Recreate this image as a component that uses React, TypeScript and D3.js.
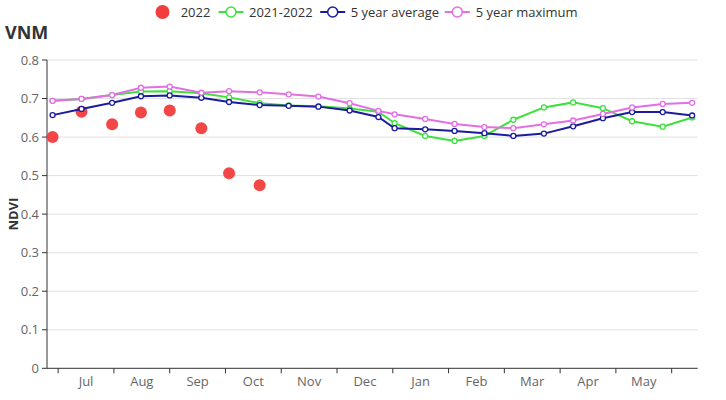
import React from "react";
import * as d3 from "d3";

const title = "VNM";
const yLabel = "NDVI";
const periods = [
  "2021-06-28", "2021-07-14", "2021-07-31", "2021-08-16", "2021-09-01", "2021-09-18",
  "2021-10-03", "2021-10-20", "2021-11-05", "2021-11-21", "2021-12-08", "2021-12-24",
  "2022-01-02", "2022-01-19", "2022-02-04", "2022-02-19", "2022-03-06", "2022-03-23",
  "2022-04-08", "2022-04-24", "2022-05-10", "2022-05-27", "2022-06-12",
];
const s2022 = [0.600, 0.666, 0.633, 0.664, 0.669, 0.623, 0.506, 0.475];
const s2021_2022 = [0.694, 0.699, 0.709, 0.718, 0.719, 0.714, 0.703, 0.688, 0.682, 0.680, 0.674, 0.666,
  0.636, 0.603, 0.590, 0.603, 0.645, 0.677, 0.690, 0.675, 0.641, 0.627, 0.651];
const avg5 = [0.657, 0.673, 0.689, 0.706, 0.708, 0.702, 0.691, 0.683, 0.681, 0.679, 0.669, 0.652,
  0.623, 0.620, 0.616, 0.610, 0.603, 0.609, 0.628, 0.649, 0.665, 0.665, 0.656];
const max5 = [0.694, 0.699, 0.709, 0.728, 0.731, 0.715, 0.719, 0.716, 0.711, 0.705, 0.688, 0.668,
  0.659, 0.647, 0.634, 0.626, 0.623, 0.633, 0.643, 0.660, 0.677, 0.686, 0.689];
const monthStarts = ["2021-07-01", "2021-08-01", "2021-09-01", "2021-10-01", "2021-11-01", "2021-12-01",
  "2022-01-01", "2022-02-01", "2022-03-01", "2022-04-01", "2022-05-01", "2022-06-01"];
const monthLabels = ["Jul", "Aug", "Sep", "Oct", "Nov", "Dec", "Jan", "Feb", "Mar", "Apr", "May"];
const yTicks = [0, 0.1, 0.2, 0.3, 0.4, 0.5, 0.6, 0.7, 0.8];
const xStart = "2021-06-25";
const xEnd = "2022-06-15";

const legendItems = [
  { name: "2022", color: "#f23d3d", type: "dot" },
  { name: "2021-2022", color: "#3ee03e", type: "line" },
  { name: "5 year average", color: "#1b1b9e", type: "line" },
  { name: "5 year maximum", color: "#e46ee4", type: "line" },
];

function monthPos(s: string): number {
  const [y, m, d] = s.split("-").map(Number);
  const dim = new Date(y, m, 0).getDate();
  return (y - 2021) * 12 + (m - 1) - 6 + (d - 1) / dim;
}

const FONT = "'Open Sans', 'Noto Sans', sans-serif";

export default function App() {
  const left = 47, right = 697.7, top = 60, bottom = 368.3;
  const x = d3.scaleLinear().domain([monthPos(xStart), monthPos(xEnd)]).range([left, right]);
  const y = d3.scaleLinear().domain([0, 0.8]).range([bottom, top]);
  const xp = periods.map(monthPos);

  const line = d3.line<number>().x((_, i) => x(xp[i])).y((v) => y(v));

  const series = [
    { data: s2021_2022, color: legendItems[1].color },
    { data: avg5, color: legendItems[2].color },
    { data: max5, color: legendItems[3].color },
  ];

  // legend layout positions
  const legendX = [162.5, 231, 332.7, 457.3];
  const legendTextX = [180.7, 249, 350.7, 475.7];

  return (
    <svg width={726} height={400} style={{ position: "absolute", left: 0, top: 0, background: "#fff" }}
      fontFamily={FONT}>
      {/* title */}
      <text x={5} y={38.5} fontSize={18} fontWeight="bold" fill="#333">{title}</text>
      {/* legend */}
      {legendItems.map((it, i) => (
        <g key={it.name}>
          {it.type === "dot" ? (
            <circle cx={legendX[i]} cy={12} r={7} fill={it.color} />
          ) : (
            <g>
              <line x1={legendX[i] - 12.5} x2={legendX[i] + 12.5} y1={12} y2={12} stroke={it.color} strokeWidth={2} />
              <circle cx={legendX[i]} cy={12} r={5} fill="#fff" stroke={it.color} strokeWidth={1.5} />
            </g>
          )}
          <text x={legendTextX[i]} y={12} dy="0.35em" fontSize={13} fill="#333">{it.name}</text>
        </g>
      ))}
      {/* grid */}
      {yTicks.map((t) => (
        <g key={t}>
          {t > 0 && <line x1={left} x2={right} y1={y(t)} y2={y(t)} stroke="#e0e0e0" strokeWidth={1} />}
          <line x1={left - 5} x2={left} y1={y(t)} y2={y(t)} stroke="#333" strokeWidth={1} />
          <text x={left - 8} y={y(t)} dy="0.35em" textAnchor="end" fontSize={13} fill="#666">{String(t)}</text>
        </g>
      ))}
      {/* y axis */}
      <line x1={left} x2={left} y1={top} y2={bottom} stroke="#333" strokeWidth={1} />
      <text transform={`translate(13,${(top + bottom) / 2}) rotate(-90)`} textAnchor="middle" dy="0.35em"
        fontSize={13} fontWeight="bold" fill="#333">{yLabel}</text>
      {/* x axis */}
      <line x1={left} x2={right} y1={bottom} y2={bottom} stroke="#333" strokeWidth={1} />
      {monthStarts.map((m) => (
        <line key={m} x1={x(monthPos(m))} x2={x(monthPos(m))} y1={bottom} y2={bottom + 5} stroke="#333" strokeWidth={1} />
      ))}
      {monthLabels.map((lab, i) => {
        const cx = (x(monthPos(monthStarts[i])) + x(monthPos(monthStarts[i + 1]))) / 2;
        return (
          <text key={lab} x={cx} y={bottom + 18} textAnchor="middle" fontSize={13} fill="#666">{lab}</text>
        );
      })}
      {/* 2022 dots */}
      {s2022.map((v, i) => (
        <circle key={i} cx={x(xp[i])} cy={y(v)} r={6} fill={legendItems[0].color} opacity={0.95} />
      ))}
      {/* lines */}
      {series.map((s, si) => (
        <g key={si}>
          <path d={line(s.data) || ""} fill="none" stroke={s.color} strokeWidth={2} />
          {s.data.map((v, i) => (
            <circle key={i} cx={x(xp[i])} cy={y(v)} r={2.5} fill="#fff" stroke={s.color} strokeWidth={1.3} />
          ))}
        </g>
      ))}
    </svg>
  );
}
